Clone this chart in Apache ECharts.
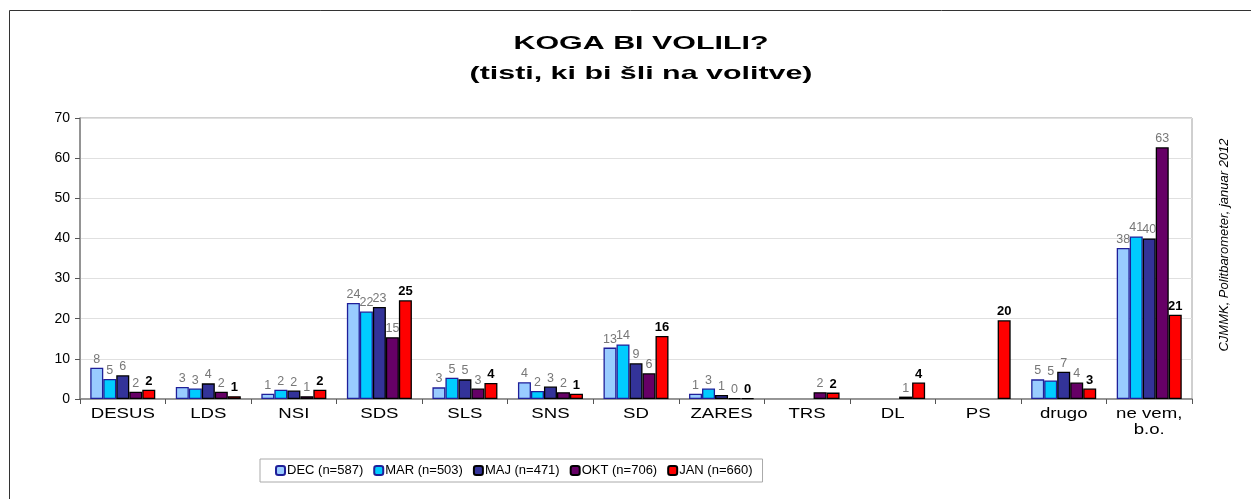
<!DOCTYPE html>
<html>
<head>
    <meta charset="utf-8">
    <title>Koga bi volili</title>
    <script src="https://cdn.jsdelivr.net/npm/echarts@6.0.0/dist/echarts.min.js"></script>
    <style>
        html, body { margin: 0; padding: 0; background: #fff; }
        #chart { width: 1251px; height: 499px; }
    </style>
</head>
<body>
    <div id="chart"></div>
    <script>
        // kategorije (stranke)
        const categories = ['DESUS', 'LDS', 'NSI', 'SDS', 'SLS', 'SNS', 'SD', 'ZARES', 'TRS', 'DL', 'PS', 'drugo', 'ne vem,\nb.o.'];

        // vrednosti po valovih (odstotki)
        const dec = [7.8, 3.0, 1.3, 23.9, 2.9, 4.2, 12.8, 1.3, null, null, null, 4.9, 37.6];
        const mar = [5.0, 2.6, 2.3, 21.8, 5.3, 2.0, 13.6, 2.6, null, null, null, 4.6, 40.5];
        const maj = [5.9, 3.9, 2.1, 22.9, 4.9, 3.1, 8.9, 1.0, null, null, null, 6.8, 40.0];
        const okt = [1.8, 1.8, 0.7, 15.4, 2.6, 1.7, 6.4, 0.2, 1.7, 0.6, null, 4.1, 62.7];
        const jan = [2.3, 0.7, 2.3, 24.6, 4.0, 1.3, 15.7, 0.2, 1.6, 4.1, 19.6, 2.6, 21.0];

        const seriesNames = ['DEC (n=587)', 'MAR (n=503)', 'MAJ (n=471)', 'OKT (n=706)', 'JAN (n=660)'];
        const yTicks = [0, 10, 20, 30, 40, 50, 60, 70];

        const fills = ['#99CCFF', '#00CCFF', '#333399', '#660066', '#FF0000'];
        const borders = ['#1f1f99', '#1f1f99', '#000000', '#000000', '#000000'];
        const allData = [dec, mar, maj, okt, jan];
        const FONT = 'Arial, Liberation Sans, sans-serif';

        const chart = echarts.init(document.getElementById('chart'));

        const series = allData.map((d, i) => ({
            name: seriesNames[i],
            type: 'bar',
            data: d,
            barGap: '0%',
            barCategoryGap: '24%',
            itemStyle: { color: fills[i], borderColor: borders[i], borderWidth: 1.3 },
            label: {
                show: true,
                position: 'top',
                distance: 2,
                fontFamily: FONT,
                fontSize: i === 4 ? 13 : 12.5,
                fontWeight: i === 4 ? 'bold' : 'normal',
                color: i === 4 ? '#000' : '#777',
                formatter: p => p.value == null ? '' : Math.round(p.value)
            }
        }));

        // okvirji, naslov in vir (naslov je v originalu razpotegnjen)
        const baseGraphic = [
            {
                id: 'outer', type: 'rect',
                shape: { x: 9.5, y: 10.5, width: 1260, height: 510 },
                style: { fill: 'none', stroke: '#333', lineWidth: 1 }
            },
            {
                id: 'plotbox', type: 'rect',
                shape: { x: 80, y: 118, width: 1112, height: 281 },
                style: { fill: 'none', stroke: '#a0a0a0', lineWidth: 1 }
            },
            {
                id: 'title', type: 'text',
                x: 641, y: 59, scaleX: 1.6,
                style: {
                    text: 'KOGA BI VOLILI?\n(tisti, ki bi šli na volitve)',
                    fontFamily: FONT, fontSize: 19, fontWeight: 'bold', lineHeight: 30,
                    fill: '#000', align: 'center', verticalAlign: 'middle'
                }
            },
            {
                id: 'source', type: 'text',
                x: 1224, y: 245, rotation: Math.PI / 2,
                style: {
                    text: 'CJMMK, Politbarometer, januar 2012',
                    fontFamily: FONT, fontSize: 13, fontStyle: 'italic',
                    fill: '#000', align: 'center', verticalAlign: 'middle'
                }
            }
        ];

        chart.setOption({
            animation: false,
            textStyle: { fontFamily: FONT },
            graphic: baseGraphic,
            legend: {
                data: seriesNames,
                top: 459,
                left: 260,
                padding: [5, 10, 5, 15],
                borderColor: '#aaa',
                borderWidth: 1,
                itemWidth: 9,
                itemHeight: 9,
                itemGap: 10,
                textStyle: { fontSize: 13, color: '#000', padding: [0, 0, 0, -3] }
            },
            grid: { left: 80, right: 59, top: 118, bottom: 100 },
            xAxis: {
                type: 'category',
                data: categories,
                axisLine: { lineStyle: { color: '#808080', width: 1.5 } },
                axisTick: { show: true, length: 5, lineStyle: { color: '#555' } },
                axisLabel: { show: false }
            },
            yAxis: {
                type: 'value',
                min: 0,
                max: 70,
                interval: 10,
                axisLine: { show: true, lineStyle: { color: '#808080', width: 1.5 } },
                axisTick: { show: true, length: 5, lineStyle: { color: '#555' } },
                splitLine: { lineStyle: { color: '#e0e0e0' } },
                axisLabel: {
                    fontSize: 14,
                    color: '#000',
                    margin: 10,
                    formatter: v => yTicks.includes(v) ? v : ''
                }
            },
            series: series
        });

        // oznake kategorij: položaj iz osi, razpotegnjene kot v originalu
        const y0 = chart.convertToPixel({ yAxisIndex: 0 }, 0);
        const catLabels = categories.map((c, i) => ({
            id: 'cat' + i, type: 'text',
            x: chart.convertToPixel({ xAxisIndex: 0 }, c),
            y: y0 + 7, scaleX: 1.33,
            style: {
                text: c, fontFamily: FONT, fontSize: 14, lineHeight: 16,
                fill: '#000', align: 'center', verticalAlign: 'top'
            }
        }));
        chart.setOption({ graphic: baseGraphic.concat(catLabels) });
    </script>
</body>
</html>
